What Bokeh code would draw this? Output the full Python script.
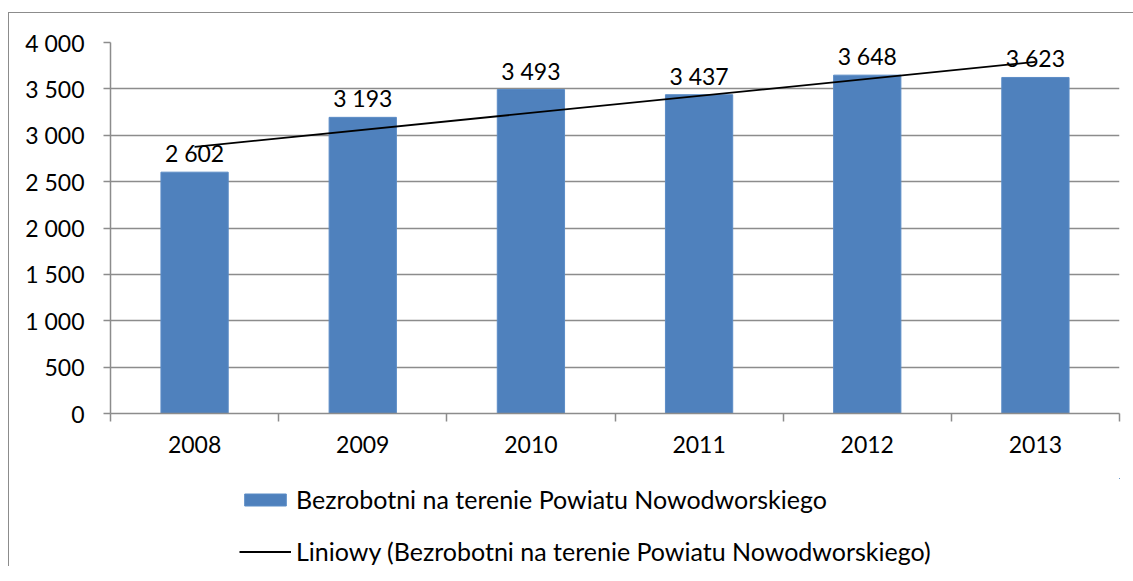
import numpy as np
from bokeh.plotting import figure
from bokeh.layouts import column
from bokeh.models import ColumnDataSource, FixedTicker, Legend, LegendItem, Range1d
from bokeh.core.properties import value
from bokeh.embed import file_html
from bokeh.resources import INLINE

years = ["2008", "2009", "2010", "2011", "2012", "2013"]
unemployed = [2602, 3193, 3493, 3437, 3648, 3623]
y_ticks = [0, 500, 1000, 1500, 2000, 2500, 3000, 3500, 4000]
series_name = "Bezrobotni na terenie Powiatu Nowodworskiego"
trend_name = "Liniowy (Bezrobotni na terenie Powiatu Nowodworskiego)"

FONT = "Lato"
GRAY = "#8c8c8c"
BAR_FILL = "#4F81BD"
BAR_LINE = "#5b8cc6"

def fmt(v):
    return f"{v:,}".replace(",", " ")

idx = np.arange(len(years))
centers = idx + 0.5
src = ColumnDataSource(dict(x=centers, y=unemployed, lbl=[fmt(v) for v in unemployed]))

slope, intercept = np.polyfit(idx + 1, np.array(unemployed, dtype=float), 1)
trend_x = [centers[0], centers[-1]]
trend_y = [intercept + slope * 1, intercept + slope * len(years)]

# ---- main chart ----
p = figure(width=1124, height=465, output_backend="svg", toolbar_location=None,
           x_range=Range1d(0, len(years)), y_range=Range1d(0, 4000),
           min_border_left=101, min_border_right=14, min_border_top=29, min_border_bottom=65)
p.outline_line_color = None
p.background_fill_color = "white"
p.border_fill_color = "white"

p.vbar(x="x", top="y", width=0.4, source=src, fill_color=BAR_FILL, line_color=BAR_LINE, line_width=1)
p.line(trend_x, trend_y, line_color="black", line_width=1.8)
p.text(x="x", y="y", text="lbl", source=src, text_align="center", text_baseline="alphabetic",
       y_offset=-19, text_font=value(FONT), text_font_size="23px", text_color="black")

p.xgrid.visible = False
p.ygrid.ticker = FixedTicker(ticks=y_ticks)
p.ygrid.grid_line_color = GRAY
p.ygrid.grid_line_width = 1.5

p.yaxis.ticker = FixedTicker(ticks=y_ticks)
p.yaxis.major_label_overrides = {v: fmt(v) for v in y_ticks}
p.yaxis.major_tick_out = 7
p.yaxis.major_tick_in = 0
p.yaxis.minor_tick_out = 0
p.yaxis.minor_tick_in = 0
p.yaxis.major_label_standoff = 19
p.yaxis.axis_line_color = GRAY
p.yaxis.axis_line_width = 1.5
p.yaxis.major_tick_line_color = GRAY
p.yaxis.major_tick_line_width = 1.5

p.xaxis.ticker = FixedTicker(ticks=list(centers), minor_ticks=list(range(len(years) + 1)))
p.xaxis.major_label_overrides = {float(c): y for c, y in zip(centers, years)}
p.xaxis.major_tick_out = 0
p.xaxis.major_tick_in = 0
p.xaxis.minor_tick_out = 8
p.xaxis.minor_tick_in = 0
p.xaxis.major_label_standoff = 14
p.xaxis.axis_line_color = GRAY
p.xaxis.axis_line_width = 1.5
p.xaxis.minor_tick_line_color = GRAY
p.xaxis.minor_tick_line_width = 1.5

for ax in (p.xaxis, p.yaxis):
    ax.major_label_text_font = FONT
    ax.major_label_text_font_size = "23px"
    ax.major_label_text_color = "black"

# ---- legend strip (proxy renderers share the data but sit outside this strip's view) ----
q = figure(width=1124, height=88, output_backend="svg", toolbar_location=None,
           x_range=Range1d(-20, -19), y_range=Range1d(-20, -19),
           x_axis_location=None, y_axis_location=None,
           min_border_left=0, min_border_right=0, min_border_top=0, min_border_bottom=0)
q.outline_line_color = None
q.grid.visible = False
q.border_fill_color = "white"
lg_bar = q.vbar(x="x", top="y", width=0.4, source=src, fill_color=BAR_FILL, line_color=BAR_LINE, line_width=1)
lg_line = q.line(trend_x, trend_y, line_color="black", line_width=1.8)

legend = Legend(items=[LegendItem(label=series_name, renderers=[lg_bar]),
                       LegendItem(label=trend_name, renderers=[lg_line])],
                location=(129, 0), orientation="vertical",
                glyph_width=52, glyph_height=15, label_height=20, spacing=22,
                label_standoff=5, padding=0, margin=0,
                label_text_font=FONT, label_text_font_size="25px", label_text_color="black",
                border_line_color=None, background_fill_alpha=0)
q.add_layout(legend, "center")

layout = column(p, q, spacing=0)
layout.styles = {"border-left": f"1px solid {GRAY}", "border-top": f"1px solid {GRAY}",
                 "margin-left": "8px", "margin-top": "12px"}

open("out.html", "w").write(file_html(layout, INLINE))
